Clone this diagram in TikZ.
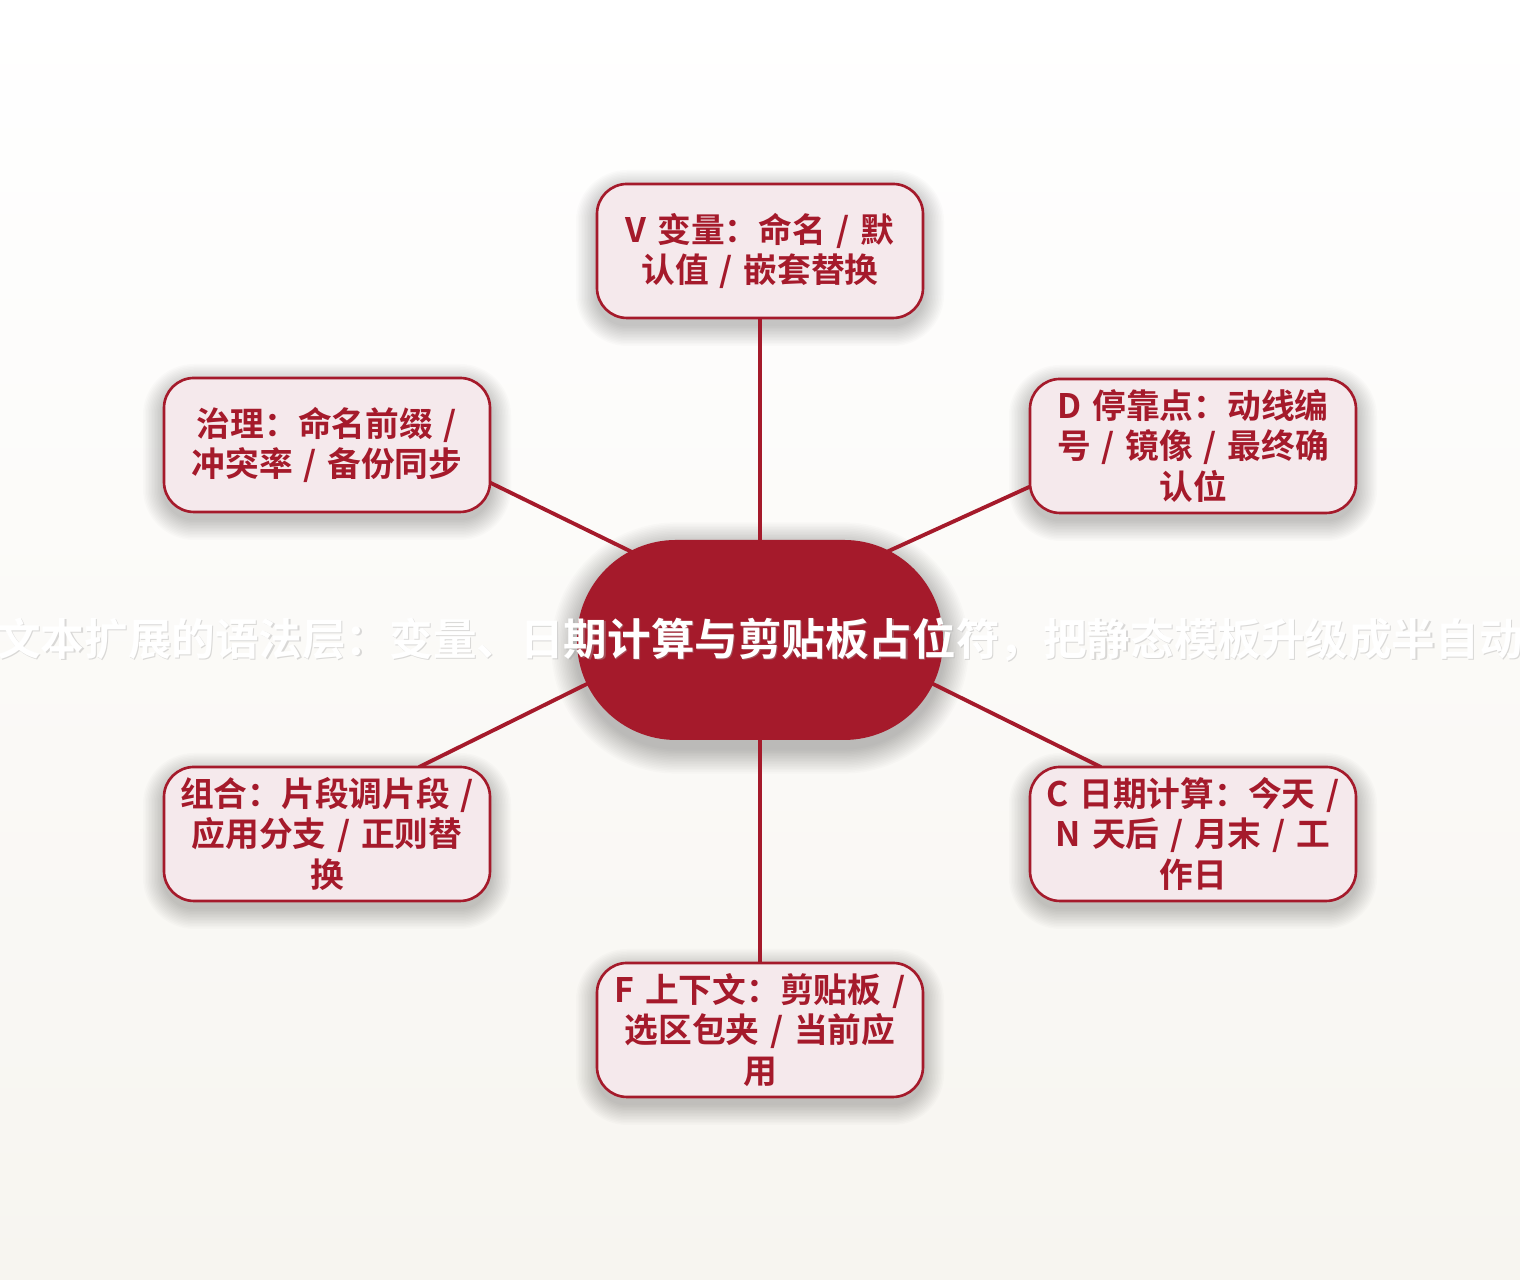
\documentclass[tikz,border=0pt]{standalone}
\usepackage{fontspec}
\newfontfamily\cjk{Noto Sans CJK SC}[BoldFont={Noto Sans CJK SC Bold}]
\usetikzlibrary{
    positioning
}
\definecolor{wine}{HTML}{A51A2B}
\definecolor{blush}{HTML}{F5E9EC}
\definecolor{paper}{HTML}{F7F5F0}
\pgfdeclarelayer{back}
\pgfdeclarelayer{shade}
\pgfdeclarelayer{links}
\pgfsetlayers{back,shade,links,main}
\newcommand\leaffont{\cjk\bfseries\fontsize{9.6pt}{11.6pt}\selectfont
    \spaceskip=0.32em plus 0pt minus 0pt\relax}

\begin{document}
\begin{tikzpicture}[
    hub/.style={
        rectangle,
        rounded corners=0.99cm,
        minimum width=3.66cm,
        minimum height=2cm,
        inner sep=0pt,
        outer sep=0pt,
        fill=wine,
    },
    leaf/.style={
        rectangle,
        rounded corners=0.3cm,
        minimum width=3.26cm,
        minimum height=1.34cm,
        inner sep=0pt,
        outer sep=0pt,
        draw=wine,
        line width=0.75pt,
        fill=blush,
        text=wine,
        align=center,
        font=\leaffont,
    },
    title/.style={
        inner sep=0pt,
        font=\cjk\bfseries\fontsize{12.4pt}{14pt}\selectfont,
    },
    link/.style={
        wine,
        line width=1.1pt,
        line cap=round,
    },
]
    \useasboundingbox (0,0) rectangle (15.2,12.8);
    \begin{pgfonlayer}{back}
        \fill[top color=white, bottom color=paper] (0,0) rectangle (15.2,12.8);
    \end{pgfonlayer}

    \node[hub] (hub) at (7.6,6.4) {};

    \node[leaf, above=2.22cm of hub] (var) {V 变量：命名 / 默\\认值 / 嵌套替换};
    \node[leaf, below=2.23cm of hub] (ctx) {F 上下文：剪贴板 /\\选区包夹 / 当前应\\用};
    \node[leaf, right=0.87cm of hub, yshift=1.94cm] (dock) {D 停靠点：动线编\\号 / 镜像 / 最终确\\认位};
    \node[leaf, right=0.87cm of hub, yshift=-1.94cm] (date) {C 日期计算：今天 /\\N 天后 / 月末 / 工\\作日};
    \node[leaf, left=0.87cm of hub, yshift=1.95cm] (gov) {治理：命名前缀 /\\冲突率 / 备份同步};
    \node[leaf, left=0.87cm of hub, yshift=-1.94cm] (combo) {组合：片段调片段 /\\应用分支 / 正则替\\换};

    % soft shadows under the boxes
    \begin{pgfonlayer}{shade}
        \foreach \g in {1,...,16} {
            \pgfmathsetmacro\rr{0.99+0.016*\g}
            \fill[black, opacity=0.016, rounded corners=\rr cm]
                ([shift={(-0.016*\g,-0.016*\g-0.08)}]hub.south west)
                rectangle ([shift={(0.016*\g,0.016*\g-0.08)}]hub.north east);
        }
        \foreach \n in {var,ctx,dock,date,gov,combo} {
            \foreach \g in {1,...,14} {
                \pgfmathsetmacro\rr{0.3+0.015*\g}
                \fill[black, opacity=0.016, rounded corners=\rr cm]
                    ([shift={(-0.015*\g,-0.015*\g-0.07)}]\n.south west)
                    rectangle ([shift={(0.015*\g,0.015*\g-0.07)}]\n.north east);
            }
        }
    \end{pgfonlayer}

    % title runs past the hub on both sides
    \node[title, text=black!35, opacity=0.4] (titleshade) at ([xshift=0.012cm, yshift=-0.012cm]hub.center)
        {文本扩展的语法层：变量、日期计算与剪贴板占位符，把静态模板升级成半自动};
    \node[title, text=white] (title) at (hub.center)
        {文本扩展的语法层：变量、日期计算与剪贴板占位符，把静态模板升级成半自动};

    \begin{pgfonlayer}{links}
        \draw[link] (hub.center) -- (var.south);
        \draw[link] (hub.center) -- (ctx.north);
        \draw[link] ([shift={(1.2,0.85)}]hub.center) -- (dock.194);
        \draw[link] ([shift={(1.65,-0.40)}]hub.center) -- (date.144);
        \draw[link] ([shift={(-1.22,0.85)}]hub.center) -- (gov.347);
        \draw[link] ([shift={(-1.65,-0.40)}]hub.center) -- (combo.36);
    \end{pgfonlayer}
\end{tikzpicture}
\end{document}
